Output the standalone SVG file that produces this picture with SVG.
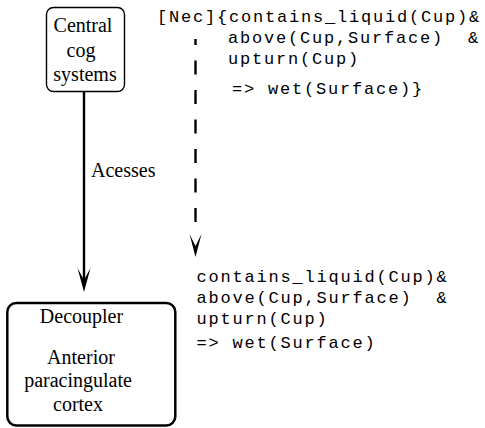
<svg xmlns="http://www.w3.org/2000/svg" width="485" height="428" viewBox="0 0 485 428">
<style>
.serif{font-family:"Liberation Serif","Times New Roman",serif;font-size:20px;fill:#000}
.mono{font-family:"Liberation Mono","Courier New",monospace;font-size:17px;letter-spacing:1.8px;fill:#000}
.box{fill:#fff;stroke:#000}
</style>
<rect width="485" height="428" fill="#fff"/>
<g id="connectors">
  <line x1="84" y1="92" x2="84" y2="285" stroke="#000" stroke-width="2.4"/>
  <polygon points="77.5,268 84,280 90.5,268 84,292" fill="#000"/>
  <text class="serif" x="91" y="177">Acesses</text>
  <line x1="195.5" y1="39" x2="195.5" y2="224" stroke="#000" stroke-width="2.4" stroke-dasharray="14 15.5" stroke-dashoffset="8"/>
  <polygon points="189.5,234 195.5,246 201.5,234 195.5,257" fill="#000"/>
</g>
<g id="central">
  <rect class="box" x="46.5" y="7.5" width="78" height="84" rx="7" stroke-width="1.4"/>
  <text class="serif" x="83" y="32" text-anchor="middle">Central</text>
  <text class="serif" x="81" y="56.5" text-anchor="middle">cog</text>
  <text class="serif" x="85" y="81" text-anchor="middle">systems</text>
</g>
<g id="decoupler">
  <rect class="box" x="7.3" y="303" width="168" height="122.5" rx="9" stroke-width="2.5"/>
  <text class="serif" x="81.5" y="323" text-anchor="middle">Decoupler</text>
  <text class="serif" x="81" y="363.5" text-anchor="middle">Anterior</text>
  <text class="serif" x="78" y="387" text-anchor="middle">paracingulate</text>
  <text class="serif" x="78" y="410.5" text-anchor="middle">cortex</text>
</g>
<g id="nec-formula">
  <text class="mono" x="157" y="22">[Nec]{contains_liquid(Cup)&amp;</text>
  <text class="mono" x="228" y="43" xml:space="preserve">above(Cup,Surface)  &amp;</text>
  <text class="mono" x="228" y="64">upturn(Cup)</text>
  <text class="mono" x="232" y="94">=&gt; wet(Surface)}</text>
</g>
<g id="formula">
  <text class="mono" x="196.5" y="282">contains_liquid(Cup)&amp;</text>
  <text class="mono" x="196.5" y="303" xml:space="preserve">above(Cup,Surface)  &amp;</text>
  <text class="mono" x="196.5" y="324">upturn(Cup)</text>
  <text class="mono" x="196.5" y="348">=&gt; wet(Surface)</text>
</g>
</svg>
